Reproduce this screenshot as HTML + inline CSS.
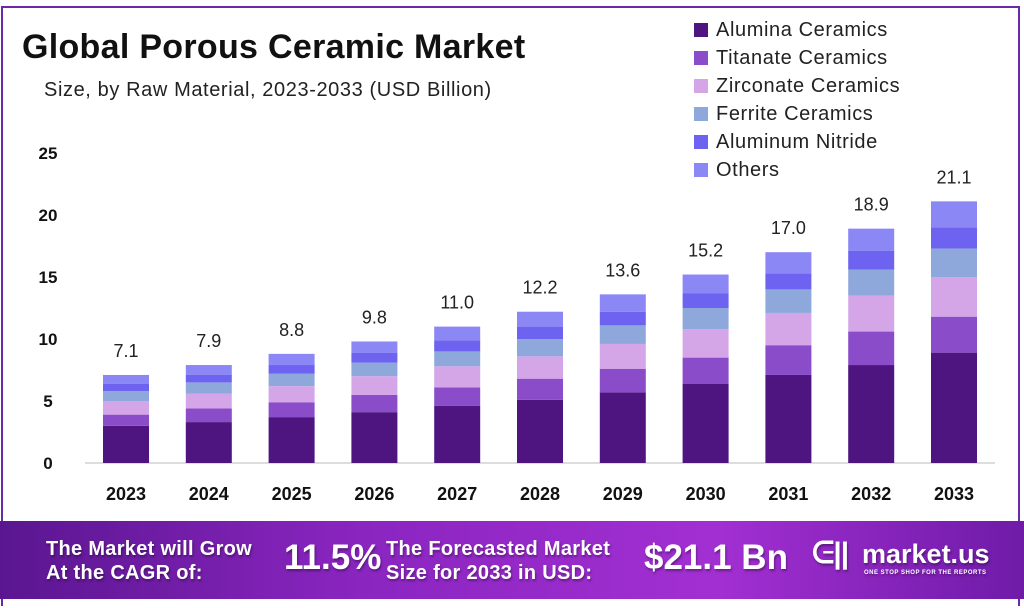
<!DOCTYPE html>
<html><head><meta charset="utf-8"><style>
body{margin:0;width:1024px;height:608px;background:#fff;font-family:"Liberation Sans",sans-serif;overflow:hidden;position:relative}
.frame{position:absolute;left:1px;top:6px;width:1019px;height:600px;border:2px solid #6a2aa8;border-bottom:none;box-sizing:border-box}
.title{position:absolute;left:22px;top:28px;font-size:34px;font-weight:bold;color:#111;letter-spacing:0.3px}
.sub{position:absolute;left:44px;top:79px;font-size:20px;color:#222;letter-spacing:0.6px}
.leg{position:absolute;left:694px;font-size:20px;color:#222;letter-spacing:0.6px}
.leg span{display:inline-block;width:14px;height:14px;margin-right:8px;vertical-align:-1px}
.footer{position:absolute;left:0;top:521px;width:1024px;height:78px;background:linear-gradient(90deg,#5a1690 0%,#8a25c0 35%,#a22fd2 70%,#6f1ba8 100%)}
.ft{position:absolute;color:#fff;font-weight:bold;text-shadow:1px 2px 2px rgba(0,0,0,.35)}
</style></head><body>
<div class="frame"></div>
<div class="title">Global Porous Ceramic Market</div>
<div class="sub">Size, by Raw Material, 2023-2033 (USD Billion)</div>
<div class="leg" style="top:19px"><span style="background:#4e1580"></span>Alumina Ceramics</div>
<div class="leg" style="top:47px"><span style="background:#8a4cc8"></span>Titanate Ceramics</div>
<div class="leg" style="top:75px"><span style="background:#d4a6e8"></span>Zirconate Ceramics</div>
<div class="leg" style="top:103px"><span style="background:#8fa8dc"></span>Ferrite Ceramics</div>
<div class="leg" style="top:131px"><span style="background:#6e62f0"></span>Aluminum Nitride</div>
<div class="leg" style="top:159px"><span style="background:#8b87f5"></span>Others</div>
<svg id="chart" width="1024" height="520" style="position:absolute;left:0;top:0"></svg>
<div class="footer">
<div class="ft" style="left:46px;top:16px;font-size:20px;line-height:24px;letter-spacing:0.3px">The Market will Grow<br>At the CAGR of:</div>
<div class="ft" style="left:284px;top:17px;font-size:35px">11.5%</div>
<div class="ft" style="left:386px;top:16px;font-size:20px;line-height:24px;letter-spacing:0.3px">The Forecasted Market<br>Size for 2033 in USD:</div>
<div class="ft" style="left:644px;top:17px;font-size:35px">$21.1 Bn</div>
<div class="ft" style="left:812px;top:16px;font-size:30px;letter-spacing:-1px">ᕮ||</div>
<div class="ft" style="left:862px;top:18px;font-size:27px">market.us</div>
<div class="ft" style="left:864px;top:49px;font-size:6px;letter-spacing:.5px">ONE STOP SHOP FOR THE REPORTS</div>
</div>
<script>
const years=["2023","2024","2025","2026","2027","2028","2029","2030","2031","2032","2033"];
const alumina=[3.0,3.3,3.7,4.1,4.6,5.1,5.7,6.4,7.1,7.9,8.9];
const titanate=[0.9,1.1,1.2,1.4,1.5,1.7,1.9,2.1,2.4,2.7,2.9];
const zirconate=[1.1,1.2,1.3,1.5,1.7,1.8,2.0,2.3,2.6,2.9,3.2];
const ferrite=[0.8,0.9,1.0,1.1,1.2,1.4,1.5,1.7,1.9,2.1,2.3];
const nitride=[0.6,0.6,0.7,0.8,0.9,1.0,1.1,1.2,1.3,1.5,1.7];
const others=[0.7,0.8,0.9,0.9,1.1,1.2,1.4,1.5,1.7,1.8,2.1];
const totals=["7.1","7.9","8.8","9.8","11.0","12.2","13.6","15.2","17.0","18.9","21.1"];
const yTicks=[0,5,10,15,20,25];
const series=[alumina,titanate,zirconate,ferrite,nitride,others];
const colors=["#4e1580","#8a4cc8","#d4a6e8","#8fa8dc","#6e62f0","#8b87f5"];
const names=["alumina","titanate","zirconate","ferrite","aluminum-nitride","others"];
const svg=document.getElementById('chart');
const NS="http://www.w3.org/2000/svg";
const y0=463,pxPer=12.4,x0=126,step=82.8,bw=46;
const yS=v=>y0-v*pxPer, xS=i=>x0+i*step;
function mk(t,a){const e=document.createElementNS(NS,t);for(const k in a)e.setAttribute(k,a[k]);svg.appendChild(e);return e;}
yTicks.forEach(v=>{const t=mk('text',{x:48,y:yS(v)+6,'text-anchor':'middle','font-size':17,'font-weight':'bold',fill:'#111'});t.textContent=v;

});
const base=mk('line',{x1:85,x2:995,y1:y0,y2:y0,stroke:'#bbb','stroke-width':1});


years.forEach((yr,i)=>{let acc=0;
series.forEach((s,k)=>{const r=mk('rect',{x:xS(i)-bw/2,y:yS(acc+s[i]),width:bw,height:s[i]*pxPer,fill:colors[k]});acc+=s[i];

});
const lb=mk('text',{x:xS(i),y:yS(acc)-18,'text-anchor':'middle','font-size':18,fill:'#222'});lb.textContent=totals[i];


const xl=mk('text',{x:xS(i),y:500,'text-anchor':'middle','font-size':18,'font-weight':'bold',fill:'#111'});xl.textContent=yr;

});
</script>
</body></html>
